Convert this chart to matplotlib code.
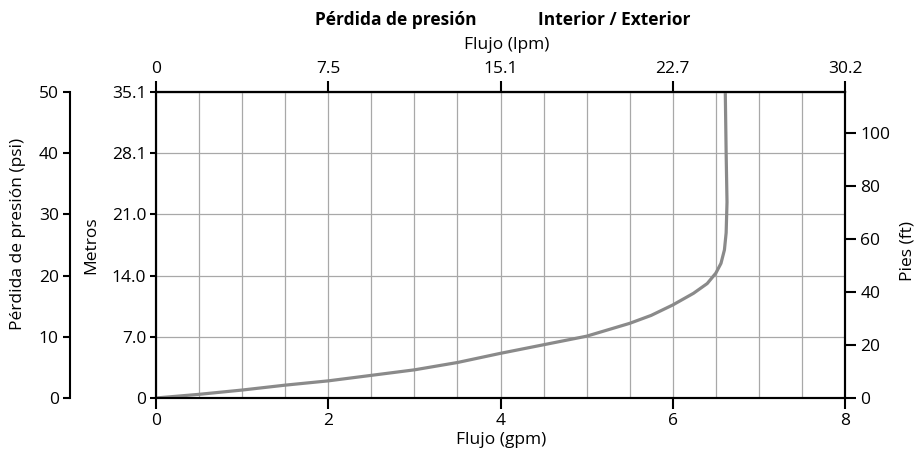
import matplotlib
matplotlib.use("Agg")
import matplotlib.pyplot as plt
import numpy as np

plt.rcParams['font.family'] = ['Open Sans', 'DejaVu Sans']

# Data (flow in gpm, pressure loss in psi)
flow_gpm = [0, 0.5, 1.0, 1.5, 2.0, 2.5, 3.0, 3.5, 4.0, 4.5, 5.0, 5.5, 5.75, 6.0,
            6.24, 6.4, 6.5, 6.56, 6.6, 6.62, 6.63, 6.62, 6.61]
loss_psi = [0, 0.6, 1.3, 2.1, 2.8, 3.7, 4.6, 5.8, 7.3, 8.7, 10.1, 12.2, 13.5, 15.2,
            17.1, 18.7, 20.4, 22.0, 24.2, 27.0, 32.0, 40.0, 50.0]

gpm_ticks = [0, 2, 4, 6, 8]
lpm_labels = ["0", "7.5", "15.1", "22.7", "30.2"]
psi_ticks = [0, 10, 20, 30, 40, 50]
meter_labels = ["0", "7.0", "14.0", "21.0", "28.1", "35.1"]
ft_ticks = [0, 20, 40, 60, 80, 100]
PSI_TO_FT = 2.31

W, H = 919, 458
fig = plt.figure(figsize=(W / 100, H / 100), dpi=100)

x0, x1, y0, y1 = 156, 845, 92, 398
ax = fig.add_axes([x0 / W, (H - y1) / H, (x1 - x0) / W, (y1 - y0) / H])
ax.set_xlim(0, 8)
ax.set_ylim(0, 50)

# grid
ax.set_xticks(np.arange(0, 8.01, 0.5), minor=True)
ax.grid(True, which='minor', axis='x', color='#a8a8a8', linewidth=0.9)
ax.grid(True, which='major', axis='both', color='#a8a8a8', linewidth=0.9)
ax.tick_params(which='minor', length=0)
ax.set_axisbelow(True)

ax.plot(flow_gpm, loss_psi, color='#8a8a8a', linewidth=2.3, solid_joinstyle='round',
        solid_capstyle='round', zorder=3)

for s in ax.spines.values():
    s.set_linewidth(1.5)
    s.set_color('black')

fs = 12.5
ax.set_xticks(gpm_ticks)
ax.set_xticklabels([str(t) for t in gpm_ticks])
ax.tick_params(axis='x', which='major', direction='out', length=8, width=1.5, pad=3,
               labelsize=fs)
ax.set_yticks(psi_ticks)
ax.set_yticklabels(meter_labels)
ax.tick_params(axis='y', which='major', direction='out', length=4, width=1.5, pad=3,
               labelsize=fs)

# top lpm axis
top = ax.secondary_xaxis('top')
top.set_xticks(gpm_ticks)
top.set_xticklabels(lpm_labels)
top.tick_params(direction='out', length=8, width=1.5, pad=3, labelsize=fs)
top.spines['top'].set_linewidth(1.5)

# right ft axis
right = ax.twinx()
right.set_ylim(0, 50 * PSI_TO_FT)
right.set_yticks(ft_ticks)
right.set_yticklabels([str(t) for t in ft_ticks])
right.tick_params(direction='out', length=8, width=1.5, pad=3, labelsize=fs)
for s in right.spines.values():
    s.set_linewidth(1.5)

# outer psi axis
px = 70
outer = fig.add_axes([px / W, (H - y1) / H, 0.001, (y1 - y0) / H])
outer.set_ylim(0, 50)
outer.set_xticks([])
for k in ['top', 'right', 'bottom']:
    outer.spines[k].set_visible(False)
outer.spines['left'].set_linewidth(1.5)
outer.patch.set_visible(False)
outer.set_yticks(psi_ticks)
outer.set_yticklabels([str(t) for t in psi_ticks])
outer.tick_params(direction='out', length=5, width=1.5, pad=3, labelsize=fs)

# axis titles
fig.text(18 / W, 1 - 234 / H, "Pérdida de presión (psi)", fontsize=fs, rotation=90,
         ha='center', va='center')
fig.text(91 / W, 1 - 245 / H, "Metros", fontsize=fs, rotation=90,
         ha='center', va='center')
fig.text(907 / W, 1 - 251 / H, "Pies (ft)", fontsize=fs, rotation=90,
         ha='center', va='center')
fig.text(507 / W, 1 - 45 / H, "Flujo (lpm)", fontsize=fs, ha='center', va='center')
fig.text(501 / W, 1 - 440 / H, "Flujo (gpm)", fontsize=fs, ha='center', va='center')

fig.text(396 / W, 1 - 20 / H, "Pérdida de presión", fontsize=12.5, fontweight='bold',
         ha='center', va='center')
fig.text(614 / W, 1 - 20 / H, "Interior / Exterior", fontsize=12.5, fontweight='bold',
         ha='center', va='center')

fig.savefig("out.png", dpi=100)
